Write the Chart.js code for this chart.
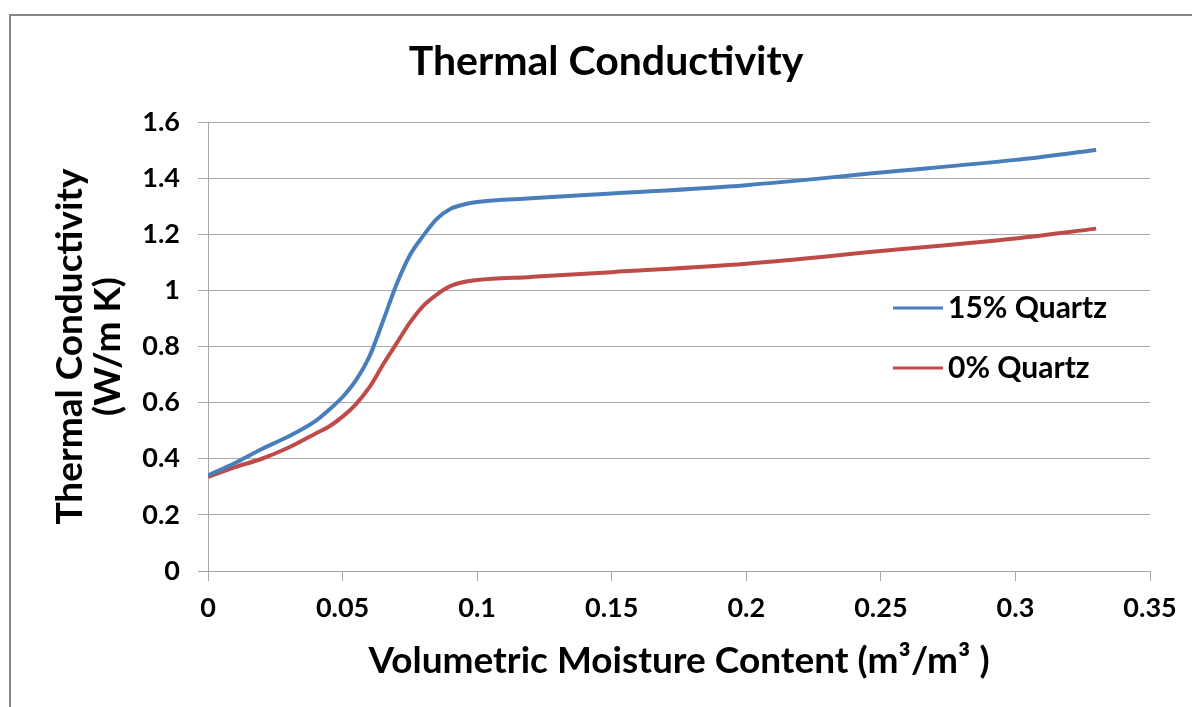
<!DOCTYPE html>
<html>
<head>
<meta charset="utf-8">
<script src="https://cdn.jsdelivr.net/npm/chart.js@4"></script>
<style>
  html, body { margin: 0; padding: 0; background: #fff; }
  canvas { display: block; }
</style>
</head>
<body>
<canvas id="chart" width="1192" height="707"></canvas>
<script>
// volumetric moisture content (m3/m3)
const moisture = [0, 0.01, 0.02, 0.03, 0.04, 0.045, 0.05, 0.055, 0.06, 0.065, 0.07, 0.075, 0.08, 0.085, 0.09, 0.095, 0.1, 0.12, 0.15, 0.2, 0.25, 0.3, 0.33];
const quartz15 = [0.34, 0.385, 0.435, 0.48, 0.535, 0.575, 0.62, 0.68, 0.765, 0.89, 1.02, 1.125, 1.195, 1.255, 1.29, 1.306, 1.315, 1.328, 1.345, 1.375, 1.42, 1.465, 1.50];
const quartz0 = [0.335, 0.37, 0.40, 0.44, 0.49, 0.515, 0.55, 0.595, 0.655, 0.735, 0.81, 0.885, 0.945, 0.985, 1.015, 1.03, 1.037, 1.048, 1.065, 1.095, 1.14, 1.185, 1.22];
const seriesNames = ['15% Quartz', '0% Quartz'];
const seriesColors = ['#4a7ebb', '#be4b48'];

const FONT = 'Lato, "Open Sans", sans-serif';
const gridColor = '#a6a6a6';

function toPoints(ys) {
  return moisture.map((x, i) => ({ x: x, y: ys[i] }));
}

function fmt(v) {
  return parseFloat(v.toFixed(2)).toString();
}

// frame, title and legend drawn on the canvas
const decorPlugin = {
  id: 'decor',
  beforeDraw(chart) {
    const ctx = chart.ctx;
    ctx.save();
    ctx.fillStyle = '#fff';
    ctx.fillRect(0, 0, chart.width, chart.height);
    ctx.strokeStyle = '#878787';
    ctx.lineWidth = 2;
    ctx.beginPath();
    ctx.moveTo(10, chart.height + 5);
    ctx.lineTo(10, 15);
    ctx.lineTo(chart.width + 5, 15);
    ctx.stroke();
    ctx.restore();
  },
  afterDraw(chart) {
    const ctx = chart.ctx;
    ctx.save();
    ctx.fillStyle = '#000';
    ctx.textBaseline = 'middle';
    ctx.textAlign = 'center';
    ctx.font = 'bold 41px ' + FONT;
    ctx.fillText('Thermal Conductivity', 606, 62);

    const legendY = [308, 368];
    ctx.textAlign = 'left';
    ctx.font = 'bold 30px ' + FONT;
    seriesNames.forEach((name, i) => {
      ctx.strokeStyle = seriesColors[i];
      ctx.lineWidth = 3;
      ctx.beginPath();
      ctx.moveTo(893, legendY[i]);
      ctx.lineTo(943, legendY[i]);
      ctx.stroke();
      ctx.fillText(name, 948, legendY[i]);
    });
    ctx.restore();
  }
};

new Chart(document.getElementById('chart'), {
  type: 'line',
  data: {
    datasets: [
      {
        label: seriesNames[0],
        data: toPoints(quartz15),
        borderColor: seriesColors[0],
        borderWidth: 4,
        pointRadius: 0,
        cubicInterpolationMode: 'monotone',
        fill: false
      },
      {
        label: seriesNames[1],
        data: toPoints(quartz0),
        borderColor: seriesColors[1],
        borderWidth: 4,
        pointRadius: 0,
        cubicInterpolationMode: 'monotone',
        fill: false
      }
    ]
  },
  options: {
    responsive: false,
    animation: false,
    devicePixelRatio: 1,
    layout: {
      padding: { left: 30, right: 42, top: 122, bottom: 0 }
    },
    plugins: {
      legend: { display: false },
      title: { display: false },
      tooltip: { enabled: false }
    },
    scales: {
      x: {
        type: 'linear',
        min: 0,
        max: 0.35,
        afterFit: s => { s.height = 136; },
        border: { display: true, color: gridColor, width: 1 },
        grid: { drawOnChartArea: false, drawTicks: true, tickLength: 10, color: gridColor },
        ticks: {
          stepSize: 0.05,
          padding: 11,
          color: '#000',
          font: { family: FONT, size: 27, weight: 'bold' },
          callback: v => fmt(v)
        },
        title: {
          display: true,
          text: 'Volumetric Moisture Content (m³/m³ )',
          color: '#000',
          font: { family: FONT, size: 37, weight: 'bold', lineHeight: 1.2 },
          padding: { top: 0, bottom: 24 }
        }
      },
      y: {
        min: 0,
        max: 1.6,
        afterFit: s => { s.width = 178; },
        border: { display: true, color: gridColor, width: 1 },
        grid: { drawTicks: true, tickLength: 10, color: gridColor, lineWidth: 1 },
        ticks: {
          stepSize: 0.2,
          padding: 18,
          color: '#000',
          font: { family: FONT, size: 27, weight: 'bold' },
          callback: v => fmt(v)
        },
        title: {
          display: true,
          text: ['Thermal Conductivity', '(W/m K)'],
          color: '#000',
          font: { family: FONT, size: 37, weight: 'bold', lineHeight: 1.03 },
          padding: { top: 21, bottom: 0 }
        }
      }
    }
  },
  plugins: [decorPlugin]
});
</script>
</body>
</html>
